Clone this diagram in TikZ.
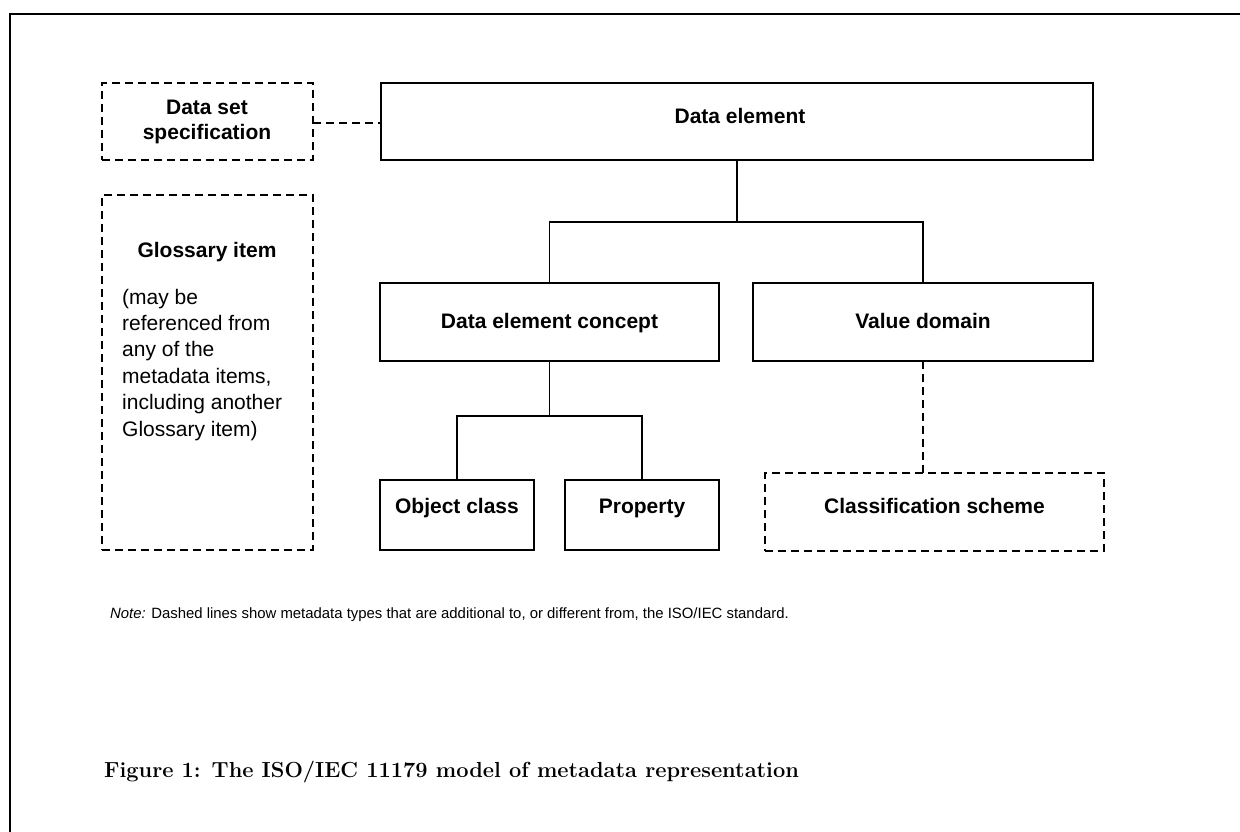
\documentclass[tikz,border=0pt]{standalone}
\usepackage{fontspec}
\newfontfamily\arial{Liberation Sans}
\begin{document}
\begin{tikzpicture}[x=1pt,y=-1pt,
  box/.style={draw, line width=1.9pt, rectangle, anchor=north west, inner sep=0pt, outer sep=0pt},
  dbox/.style={box, dash pattern=on 8pt off 5pt},
  conn/.style={line width=1.9pt},
  dconn/.style={conn, dash pattern=on 8pt off 5pt},
  lbl/.style={font=\arial\bfseries\fontsize{21}{23}\selectfont, anchor=base, inner sep=0pt},
  body/.style={font=\arial\fontsize{21}{26}\selectfont, anchor=base west, inner sep=0pt},
  frame/.style={line width=2.6pt},
]
\useasboundingbox (0,0) rectangle (1240,832);
\draw[frame] (10,850) -- (10,14) -- (1260,14);

% boxes
\node[dbox, minimum width=211pt, minimum height=77pt] (dss) at (102,83) {};
\node[box,  minimum width=712pt, minimum height=77pt] (de)  at (381,83) {};
\node[dbox, minimum width=211pt, minimum height=355pt] (gl) at (102,195) {};
\node[box,  minimum width=339pt, minimum height=78pt] (dec) at (380,283) {};
\node[box,  minimum width=340pt, minimum height=78pt] (vd)  at (753,283) {};
\node[box,  minimum width=154pt, minimum height=70pt] (oc)  at (380,480) {};
\node[box,  minimum width=154pt, minimum height=70pt] (pr)  at (565,480) {};
\node[dbox, minimum width=339pt, minimum height=78pt] (cs)  at (765,473) {};

% labels
\node[lbl] (dsst1) at (207,115) {Data set};
\node[lbl] (dsst2) at (207,140) {specification};
\node[lbl] (det) at (740,124) {Data element};
\node[lbl] (glt) at (207,257) {Glossary item};
\node[body] (glb1) at (122,304) {(may be};
\node[body] (glb2) at (122,330.4) {referenced from};
\node[body] (glb3) at (122,356.8) {any of the};
\node[body] (glb4) at (122,383.2) {metadata items,};
\node[body] (glb5) at (122,409.6) {including another};
\node[body] (glb6) at (122,436) {Glossary item)};
\node[lbl] (dect) at (dec.center |- 0,328) {Data element concept};
\node[lbl] (vdt) at (vd.center |- 0,328) {Value domain};
\node[lbl] (oct) at (oc.center |- 0,513) {Object class};
\node[lbl] (prt) at (pr.center |- 0,513) {Property};
\node[lbl] (cst) at (cs.center |- 0,513) {Classification scheme};

% connectors
\coordinate (bus1) at (0,222);
\coordinate (bus2) at (0,416);
\draw[dconn] (dss.east |- 0,123) -- (de.west |- 0,123);
\draw[conn] (de.south) -- (de.south |- bus1);
\draw[conn] (dec.north) -- (dec.north |- bus1) -- (vd.north |- bus1) -- (vd.north);
\draw[conn] (dec.south) -- (dec.south |- bus2);
\draw[conn] (oc.north) -- (oc.north |- bus2) -- (pr.north |- bus2) -- (pr.north);
\draw[dconn] (vd.south) -- (vd.south |- cs.north);

% note and caption
\node[anchor=base west, inner sep=0pt, font=\arial\fontsize{14.9}{18}\selectfont] (note) at (110,618) {\textit{Note:} Dashed lines show metadata types that are additional to, or different from, the ISO/IEC standard.};
\node[anchor=base west, inner sep=0pt, font=\bfseries\fontsize{21.8}{26}\selectfont] (cap) at (104,777) {Figure 1: The ISO/IEC 11179 model of metadata representation};
\end{tikzpicture}
\end{document}
